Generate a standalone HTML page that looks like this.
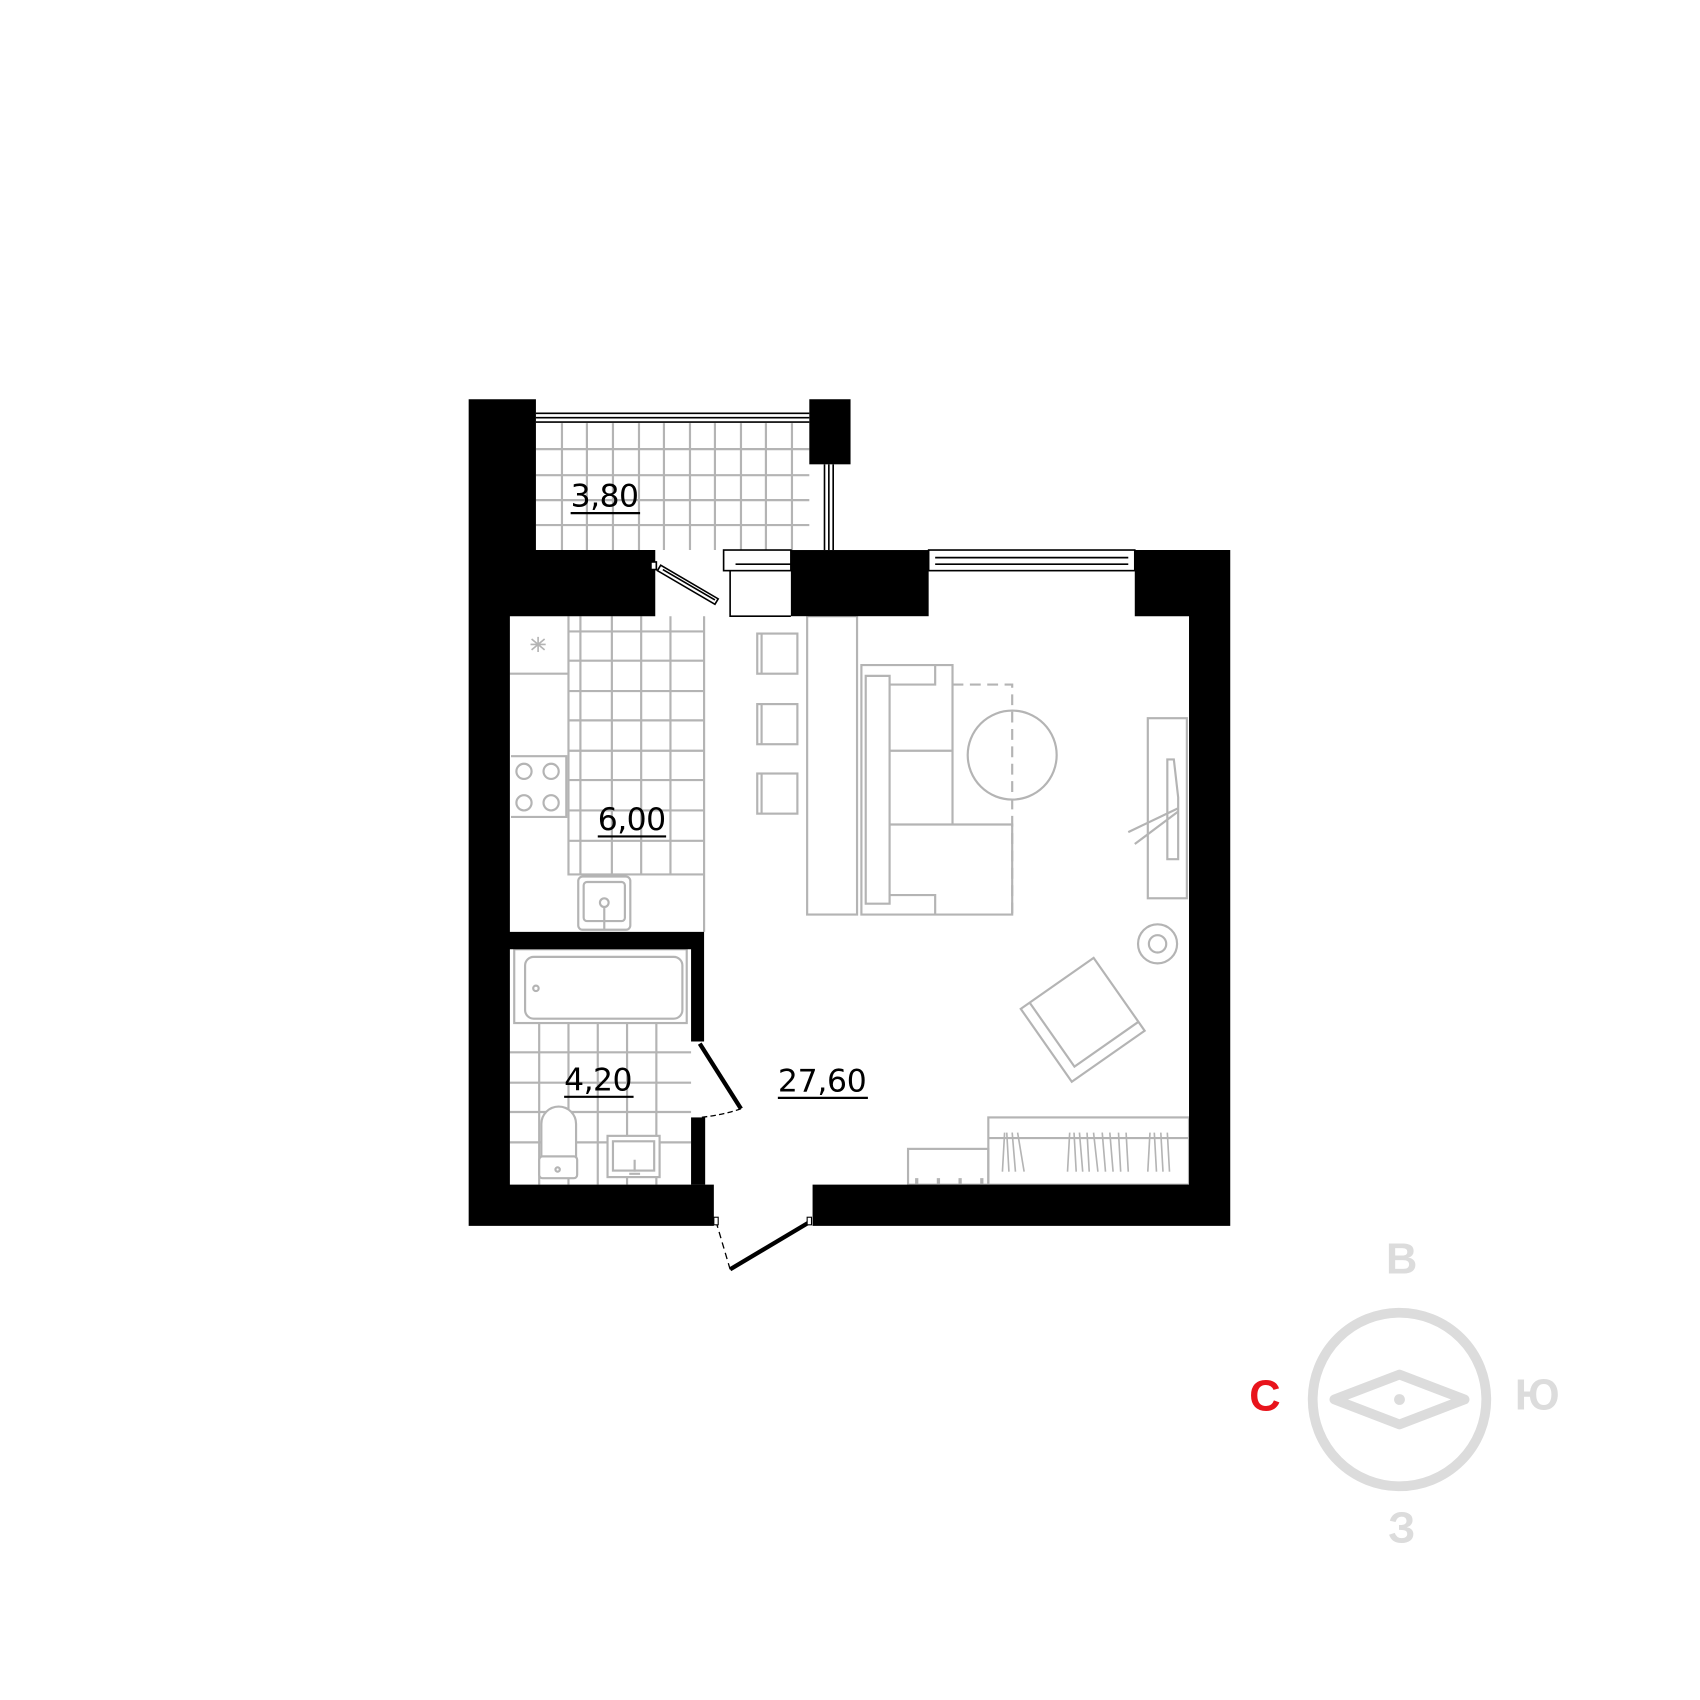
<!DOCTYPE html>
<html><head><meta charset="utf-8"><style>html,body{margin:0;padding:0;background:#fff}svg{display:block}</style></head>
<body>
<svg width="1700" height="1700" viewBox="0 0 1567 1567" xmlns="http://www.w3.org/2000/svg">
<g stroke="#b4b4b4" stroke-width="2" fill="none">
<path d="M494 414H746M494 438H746M494 461H746M494 484H746M518 390V507M541 390V507M565 390V507M589 390V507M612 390V507M636 390V507M659 390V507M683 390V507M706 390V507M730 390V507"/>
<path d="M524 568V806H649M535 568V806M564 568V806M591 568V806M618 568V806M649 568V859M524 582H649M524 609H649M524 637H649M524 664H649M524 692H649M524 719H649M524 747H649M524 775H649"/>
<path d="M470 621H524M471 697H522V753H471"/>
<path d="M489 594h14M496 587v14M490 589l12 10M502 589l-12 10" stroke-width="1.5"/>
<circle cx="483" cy="711" r="7"/><circle cx="508" cy="711" r="7"/><circle cx="483" cy="740" r="7"/><circle cx="508" cy="740" r="7"/>
<rect x="533" y="808" width="48" height="49" rx="4"/><rect x="538" y="813" width="38" height="36" rx="3"/><circle cx="557" cy="832" r="4"/><path d="M557 837V857"/>
<path d="M470 970H637M470 998H637M470 1025H637M470 1053H637M497 943V1092M524 943V1092M551 943V1092M578 943V1092M605 943V1092"/>
<rect x="474" y="875" width="159" height="68" fill="#fff"/><rect x="484" y="882" width="145" height="57" rx="8"/><circle cx="494" cy="911" r="2.5"/>
<path d="M499 1066V1036a14 14 0 0 1 32 0V1066Z" fill="#fff"/><rect x="497" y="1066" width="35" height="20" rx="3" fill="#fff"/><circle cx="514" cy="1078" r="2"/>
<rect x="560" y="1047" width="48" height="38" fill="#fff"/><rect x="565" y="1052" width="38" height="27"/><path d="M585 1069V1080M580 1082H590"/>
<rect x="698" y="584" width="37" height="37"/><path d="M702 584V621"/>
<rect x="698" y="649" width="37" height="37"/><path d="M702 649V686"/>
<rect x="698" y="713" width="37" height="37"/><path d="M702 713V750"/>
<rect x="744" y="568" width="46" height="275"/>
<path d="M794 613H878V760H933V843H794Z M798 623H820V833H798Z M820 631H862V613 M820 825H862V843 M820 692H878 M820 760H878"/>
<path d="M878 631H933V843" stroke-dasharray="10 6"/>
<circle cx="933" cy="696" r="41"/>
<rect x="1058" y="662" width="36" height="166"/><path d="M1076 700H1082L1086 735V792H1076Z"/>
<path d="M1040 767L1086 745M1046 778L1086 748"/>
<circle cx="1067" cy="870" r="18"/><circle cx="1067" cy="870" r="8"/>
<g transform="rotate(-35 998 940)"><rect x="957" y="899" width="82" height="82"/><path d="M967 899V971H1039"/></g>
<rect x="911" y="1030" width="185" height="62"/><path d="M911 1049H1096"/>
<path d="M924 1080L926 1044M930 1080L928 1044M936 1080L933 1044M944 1080L938 1044M984 1080L986 1044M992 1080L990 1044M998 1080L995 1044M1004 1080L1002 1044M1012 1080L1008 1044M1019 1080L1016 1044M1026 1080L1023 1044M1033 1080L1031 1044M1040 1080L1038 1044M1058 1080L1060 1044M1066 1080L1064 1044M1072 1080L1070 1044M1078 1080L1076 1044" stroke-width="1.5"/>
<rect x="837" y="1059" width="74" height="33"/>
<path d="M845 1092V1086M865 1092V1086M885 1092V1086M905 1092V1086" stroke-width="3"/>
</g>
<g fill="#000">
<path d="M432 368H494V507H604V568H470V859H649V960H637V875H470V1092H658V1130H432Z"/>
<rect x="746" y="368" width="38" height="60"/>
<rect x="729" y="507" width="127" height="61"/>
<path d="M1046 507H1134V1130H749V1092H1096V568H1046Z"/>
<rect x="637" y="1030" width="13" height="62"/>
</g>
<g stroke="#000" stroke-width="1.5" fill="none">
<path d="M494 381H746M494 385H746M494 389H746M760 428V507M764 428V507M768 428V507"/>
<rect x="667" y="507" width="62" height="19" fill="#fff"/><path d="M673 526V568H729M678 520H729"/>
<rect x="856" y="507" width="190" height="19" fill="#fff"/><path d="M862 514H1040M862 520H1040"/>
<path d="M609 521L662 552L659 557L606 526Z" fill="#fff"/><path d="M611 525L659 553"/>
<rect x="600" y="518" width="5" height="7" fill="#fff"/>
</g>
<g stroke="#000" fill="none">
<path d="M645 962L683 1022" stroke-width="4"/>
<path d="M683 1022Q666 1028 645 1030" stroke-width="1.2" stroke-dasharray="5 3"/>
<path d="M747 1126L673 1170" stroke-width="4"/>
<path d="M660 1126L673 1170" stroke-width="1.2" stroke-dasharray="6 4"/>
<rect x="658" y="1122" width="4" height="7" fill="#fff" stroke-width="1"/><rect x="744" y="1122" width="4" height="7" fill="#fff" stroke-width="1"/>
</g>
<g font-family="'DejaVu Sans','Liberation Sans',sans-serif" font-size="29" fill="#000">
<text x="526" y="467" textLength="63">3,80</text><path d="M526 473H590" stroke="#000" stroke-width="2"/>
<text x="551" y="765" textLength="63">6,00</text><path d="M551 771H614" stroke="#000" stroke-width="2"/>
<text x="520" y="1005" textLength="63">4,20</text><path d="M520 1011H584" stroke="#000" stroke-width="2"/>
<text x="717" y="1006" textLength="82">27,60</text><path d="M717 1012H800" stroke="#000" stroke-width="2"/>
</g>
<circle cx="1290" cy="1290" r="80" stroke="#dcdcdc" stroke-width="9" fill="none"/>
<path d="M1230 1290L1290 1267L1350 1290L1290 1313Z" stroke="#dcdcdc" stroke-width="9" fill="none" stroke-linejoin="round"/>
<circle cx="1290" cy="1290" r="5" fill="#dcdcdc"/>
<g font-family="'Liberation Sans','DejaVu Sans',sans-serif" font-weight="bold" font-size="40" text-anchor="middle" fill="#dcdcdc">
<text x="1292" y="1174">В</text><text x="1417" y="1299">Ю</text><text x="1292" y="1422">З</text>
<text x="1166" y="1300" fill="#e8141c">С</text>
</g>
</svg>
</body></html>
